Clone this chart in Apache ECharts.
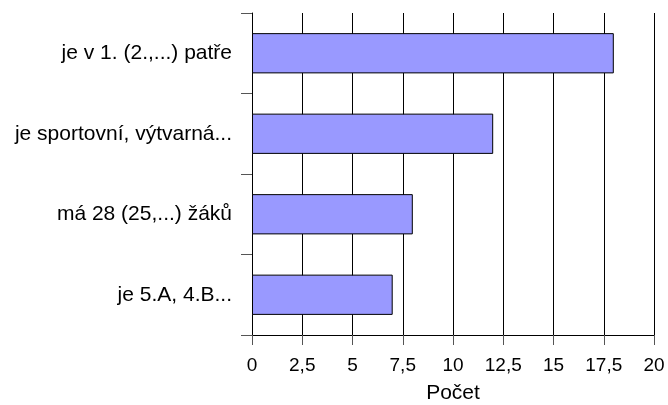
<!DOCTYPE html>
<html><head><meta charset="utf-8">
<script src="https://cdn.jsdelivr.net/npm/echarts@6/dist/echarts.min.js"></script>
<style>html,body{margin:0;padding:0;background:#fff}#c{width:668px;height:405px}</style>
</head><body><div id="c"></div>
<script>
const categories = ["je v 1. (2.,...) patře", "je sportovní, výtvarná...", "má 28 (25,...) žáků", "je 5.A, 4.B..."];
const values = [18, 12, 8, 7];
const axisName = "Počet";

const chart = echarts.init(document.getElementById('c'));
chart.setOption({
  animation: false,
  grid: {left: 252, right: 14, top: 13, bottom: 70, containLabel: false, outerBoundsMode: 'none'},
  xAxis: {
    type: 'value', min: 0, max: 20, interval: 2.5,
    name: axisName, nameLocation: 'middle', nameGap: 48,
    nameTextStyle: {fontFamily: 'Liberation Sans', fontSize: 21, color: '#000'},
    axisLine: {show: true, lineStyle: {color: '#000', width: 1}},
    axisTick: {show: true, length: 10, lineStyle: {color: '#555'}},
    axisLabel: {margin: 21, fontFamily: 'Liberation Sans', fontSize: 19, color: '#000',
      formatter: v => String(v).replace('.', ',')},
    splitLine: {show: true, lineStyle: {color: '#000', width: 1}}
  },
  yAxis: {
    type: 'category', data: categories, inverse: true,
    axisLine: {show: true, lineStyle: {color: '#000', width: 1}},
    axisTick: {show: true, length: 11, lineStyle: {color: '#555'}},
    axisLabel: {margin: 20, fontFamily: 'Liberation Sans', fontSize: 21, color: '#000'}
  },
  series: [{
    type: 'bar', data: values, barWidth: '50%',
    itemStyle: {color: '#9999ff', borderColor: '#000', borderWidth: 1}
  }]
});
</script></body></html>
